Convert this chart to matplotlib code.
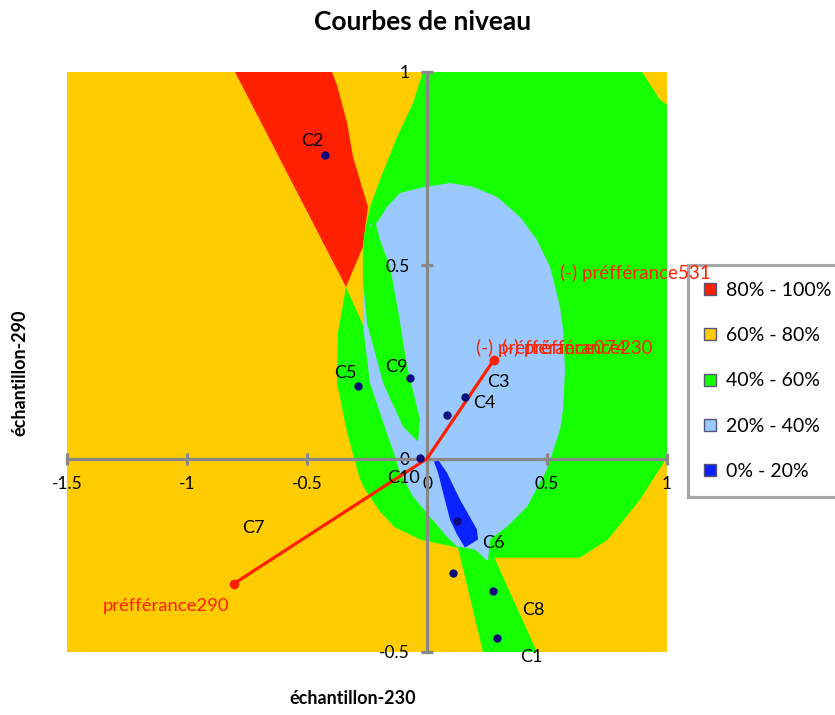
import matplotlib
matplotlib.use("Agg")
import matplotlib.pyplot as plt
from matplotlib.patches import Polygon
from matplotlib.lines import Line2D

plt.rcParams["font.family"] = ["Lato", "DejaVu Sans"]

# preference levels
level_labels = ["80% - 100%", "60% - 80%", "40% - 60%", "20% - 40%", "0% - 20%"]
level_colors = ["#FF2000", "#FFCC00", "#14FF00", "#99C9FF", "#0A22FF"]

# level zones (map coordinates), drawn in this order over the 60-80% background
zone_red = [(-0.80, 1.0), (-0.396, 1.0), (-0.375, 0.966), (-0.333, 0.868), (-0.308, 0.780),
            (-0.246, 0.651), (-0.267, 0.548), (-0.3375, 0.444)]
zone_green_main = [(-0.017, 1.0), (0.896, 1.0), (0.971, 0.928), (1.0, 0.915), (1.0, 0.003),
                   (0.8875, -0.106), (0.754, -0.209), (0.6375, -0.256), (0.275, -0.256),
                   (0.125, -0.230), (-0.029, -0.209), (-0.133, -0.178), (-0.196, -0.137),
                   (-0.258, -0.080), (-0.279, -0.054), (-0.333, 0.067), (-0.375, 0.196),
                   (-0.371, 0.326), (-0.3375, 0.444), (-0.267, 0.346), (-0.267, 0.463),
                   (-0.267, 0.548), (-0.258, 0.592), (-0.2375, 0.651), (-0.196, 0.721),
                   (-0.125, 0.832), (-0.058, 0.920)]
zone_green_tail = [(0.129, -0.230), (0.275, -0.248), (0.458, -0.5), (0.233, -0.5)]
zone_lightblue = [(-0.208, 0.610), (-0.167, 0.651), (-0.1125, 0.687), (-0.029, 0.700),
                  (0.096, 0.713), (0.192, 0.703), (0.292, 0.677), (0.3875, 0.625),
                  (0.458, 0.566), (0.5125, 0.496), (0.554, 0.393), (0.567, 0.333),
                  (0.575, 0.230), (0.567, 0.127), (0.554, 0.075), (0.5, -0.028),
                  (0.417, -0.124), (0.333, -0.176), (0.2625, -0.209), (0.254, -0.266),
                  (0.2, -0.235), (0.125, -0.227), (0.083, -0.202), (0.0125, -0.150),
                  (-0.058, -0.098), (-0.1125, -0.036), (-0.142, 0.023), (-0.1625, 0.057),
                  (-0.2375, 0.196), (-0.267, 0.346), (-0.267, 0.463), (-0.2375, 0.605)]
zone_green_band = [(-0.267, 0.548), (-0.258, 0.592), (-0.215, 0.612), (-0.196, 0.566),
                   (-0.154, 0.496), (-0.121, 0.385), (-0.083, 0.238), (-0.029, 0.101),
                   (-0.0375, 0.044), (-0.1, 0.083), (-0.183, 0.196), (-0.25, 0.351),
                   (-0.267, 0.463)]
zone_blue = [(0.029, -0.008), (0.046, -0.003), (0.083, -0.036), (0.1375, -0.106),
             (0.208, -0.183), (0.2125, -0.209), (0.179, -0.222), (0.158, -0.230),
             (0.125, -0.196), (0.096, -0.158), (0.067, -0.088), (0.046, -0.036)]

zones = [(zone_red, 0), (zone_green_main, 2), (zone_green_tail, 2),
         (zone_lightblue, 3), (zone_green_band, 2), (zone_blue, 4)]

# products
products = ["C1", "C2", "C3", "C4", "C5", "C6", "C7", "C8", "C9", "C10"]
prod_x = [0.292, -0.425, 0.158, 0.083, -0.2875, 0.125, 0.108, 0.275, -0.071, -0.029]
prod_y = [-0.4625, 0.786, 0.160, 0.114, 0.189, -0.160, -0.295, -0.341, 0.209, 0.003]
# label offsets (points)
prod_label_offsets = {"C1": (25, -14), "C2": (-9, 10), "C3": (24, 11), "C4": (27, 8),
                      "C5": (-9, 9), "C6": (26, -16), "C7": (-144, 32), "C8": (29, -14),
                      "C9": (-10, 8), "C10": (-12, -15)}

# preference vector and ideal points
pref_line_x = [-0.804, 0.0, 0.279]
pref_line_y = [-0.323, 0.0, 0.256]
pref_point_x = [-0.804, 0.279]
pref_point_y = [-0.323, 0.256]

red = "#FF2000"
fig = plt.figure(figsize=(8.35, 7.15), dpi=100)
ax = fig.add_axes([67 / 835, 1 - 652 / 715, 600 / 835, 580 / 715])
ax.set_facecolor(level_colors[1])
ax.set_xlim(-1.5, 1.0)
ax.set_ylim(-0.5, 1.0)

for verts, lvl in zones:
    ax.add_patch(Polygon(verts, closed=True, facecolor=level_colors[lvl],
                         edgecolor="none", zorder=1))

# axes through the origin
for side in ["top", "right"]:
    ax.spines[side].set_visible(False)
for side in ["left", "bottom"]:
    ax.spines[side].set_position(("data", 0))
    ax.spines[side].set_color("#888888")
    ax.spines[side].set_linewidth(2.3)
    ax.spines[side].set_zorder(3)
ax.set_xticks([-1.5, -1, -0.5, 0, 0.5, 1])
ax.set_xticklabels(["-1.5", "-1", "-0.5", "0", "0.5", "1"])
ax.set_yticks([-0.5, 0, 0.5, 1])
ax.set_yticklabels(["-0.5", "0", "0.5", "1"])
ax.tick_params(direction="inout", length=9, width=2.3, color="#888888",
               labelsize=12.5, labelcolor="black")
ax.tick_params(axis="x", pad=8)
ax.tick_params(axis="y", pad=8)

# preference vector
ax.plot(pref_line_x, pref_line_y, color=red, lw=2.3, zorder=4, solid_capstyle="round")
ax.plot(pref_point_x, pref_point_y, "o", color=red, ms=6, zorder=4)

# products
ax.plot(prod_x, prod_y, "o", color="#0B0B7A", ms=5, zorder=5)
for name, x, y in zip(products, prod_x, prod_y):
    dx, dy = prod_label_offsets[name]
    ax.annotate(name, (x, y), xytext=(dx, dy), textcoords="offset points",
                ha="center", va="center", fontsize=13, color="black", zorder=6)

# preference labels
ax.annotate("préfférance290", (pref_point_x[0], pref_point_y[0]), xytext=(-49, -16),
            textcoords="offset points", ha="center", va="center",
            fontsize=13.3, color=red, zorder=6)
ax.text(0.554, 0.481, "(-) préfférance531", ha="left", va="center",
        fontsize=13.5, color=red, zorder=10, clip_on=False)
ax.text(0.204, 0.286, "(-) préfférance074", ha="left", va="center",
        fontsize=13.5, color=red, zorder=6, clip_on=False)
ax.text(0.312, 0.286, "(-) préfférance230", ha="left", va="center",
        fontsize=13.5, color=red, zorder=6, clip_on=False)

fig.text(423 / 835, 1 - 22 / 715, "Courbes de niveau", ha="center", va="center",
         fontsize=19, fontweight="bold")
fig.text(353 / 835, 1 - 698 / 715, "échantillon-230", ha="center", va="center",
         fontsize=13, fontweight="bold")
fig.text(20 / 835, 1 - 373 / 715, "échantillon-290", ha="center", va="center",
         fontsize=13, fontweight="bold", rotation=90)

handles = [Line2D([], [], marker="s", ls="", ms=8, markerfacecolor=c,
                  markeredgecolor="#55557a", markeredgewidth=1.0) for c in level_colors]
leg = ax.legend(handles, level_labels, loc="upper left",
                bbox_to_anchor=(688 / 835, 1 - 265 / 715),
                bbox_transform=fig.transFigure, frameon=True,
                fancybox=False, fontsize=14, labelspacing=1.46, handlelength=0.6,
                handletextpad=0.5, borderpad=0.85, borderaxespad=0)
leg.get_frame().set_edgecolor("#A6A6A6")
leg.get_frame().set_linewidth(2.3)
leg.get_frame().set_alpha(None)
leg.set_zorder(7)

fig.savefig("out.png", dpi=100)
